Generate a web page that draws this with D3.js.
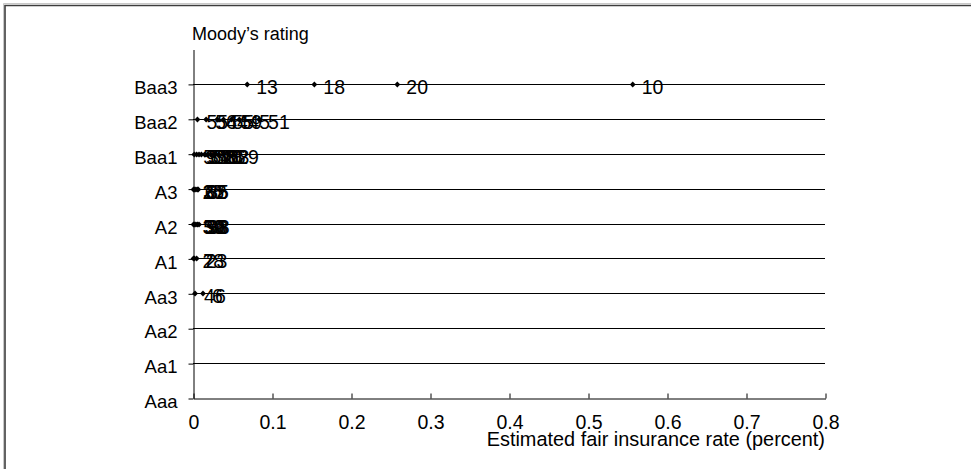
<!DOCTYPE html>
<html>
<head>
<meta charset="utf-8">
<script src="https://cdn.jsdelivr.net/npm/d3@7"></script>
<style>
  html, body { margin: 0; padding: 0; background: #fff; }
  svg { display: block; font-family: "Liberation Sans", Arial, sans-serif; }
</style>
</head>
<body>
<svg id="chart" width="971" height="469"></svg>
<script>
// Moody's rating categories (bottom to top)
const ratings = ["Aaa", "Aa1", "Aa2", "Aa3", "A1", "A2", "A3", "Baa1", "Baa2", "Baa3"];
// x-axis tick values
const xTicks = [0, 0.1, 0.2, 0.3, 0.4, 0.5, 0.6, 0.7, 0.8];

// Each point: rating, estimated rate (percent), bank label
const pointRating = [
  "Baa3", "Baa3", "Baa3", "Baa3",
  "Baa2", "Baa2", "Baa2", "Baa2", "Baa2", "Baa2", "Baa2",
  "Baa1", "Baa1", "Baa1", "Baa1", "Baa1", "Baa1", "Baa1", "Baa1", "Baa1", "Baa1", "Baa1",
  "A3", "A3", "A3", "A3", "A3",
  "A2", "A2", "A2", "A2", "A2",
  "A1", "A1", "A1",
  "Aa3", "Aa3"
];
const pointRate = [
  0.068, 0.153, 0.258, 0.556,
  0.005, 0.016, 0.030, 0.038, 0.048, 0.058, 0.083,
  0.001, 0.004, 0.007, 0.010, 0.014, 0.018, 0.022, 0.027, 0.032, 0.038, 0.044,
  0.000, 0.001, 0.003, 0.005, 0.006,
  0.000, 0.001, 0.003, 0.005, 0.007,
  0.000, 0.001, 0.004,
  0.002, 0.012
];
const pointLabel = [
  "13", "18", "20", "10",
  "55", "56", "44", "55", "59", "45", "51",
  "5", "9", "31", "57", "33", "58", "40", "26", "63", "8", "29",
  "25", "37", "62", "85", "35",
  "39", "50", "36", "98", "38",
  "28", "7", "23",
  "46", "6"
];

const axisTitleY = "Moody\u2019s rating";
const axisTitleX = "Estimated fair insurance rate (percent)";

const svg = d3.select("#chart");
const W = 971, H = 469;
const FS = 19.5;

// outer frame (left and top edges visible)
svg.append("path")
  .attr("d", `M3.5,${H} V3.5 H${W}`)
  .attr("fill", "none").attr("stroke", "#c8c8c8").attr("stroke-width", 1);
svg.append("path")
  .attr("d", `M5,${H} V5.5 H${W}`)
  .attr("fill", "none").attr("stroke", "#3c3c3c").attr("stroke-width", 1.6);

const padL = 193, padR = 825, padB = 398, padT = 49;

const x = d3.scaleLinear().domain([0, 0.8]).range([padL, padR]);
const y = d3.scaleLinear().domain([0, ratings.length]).range([padB, padT]);
const yIdx = r => Math.round(y(ratings.indexOf(r)));

const g = svg.append("g");

// horizontal gridlines at each category
g.append("g").selectAll("line")
  .data(ratings.slice(1))
  .join("line")
  .attr("x1", padL).attr("x2", padR)
  .attr("y1", d => yIdx(d) + 0.5)
  .attr("y2", d => yIdx(d) + 0.5)
  .attr("stroke", "#000").attr("stroke-width", 1);

// y axis
const yAxis = d3.axisLeft(y)
  .tickValues(d3.range(ratings.length))
  .tickFormat(i => ratings[i])
  .tickSizeInner(5).tickSizeOuter(0).tickPadding(11);
const ya = g.append("g").attr("transform", `translate(${padL + 0.5},0.5)`).call(yAxis);
ya.select(".domain").attr("stroke", "#000");
ya.selectAll(".tick line").attr("stroke", "#000");
ya.selectAll(".tick text").attr("font-size", 18.5).attr("fill", "#000")
  .attr("font-family", "'Liberation Sans', Arial, sans-serif").attr("dy", "0.5em");

// x axis (ticks pointing up into the plot)
const xAxis = d3.axisBottom(x)
  .tickValues(xTicks)
  .tickFormat(d => d3.format("")(d))
  .tickSizeInner(-5).tickSizeOuter(0).tickPadding(17);
const xa = g.append("g").attr("transform", `translate(0.5,${padB + 0.5})`).call(xAxis);
xa.select(".domain").attr("stroke", "#000");
xa.selectAll(".tick line").attr("stroke", "#000");
xa.selectAll(".tick text").attr("font-size", FS).attr("fill", "#000")
  .attr("font-family", "'Liberation Sans', Arial, sans-serif");

// axis titles
svg.append("text")
  .attr("x", padL - 1).attr("y", 40)
  .attr("font-size", 18).attr("fill", "#000")
  .text(axisTitleY);
svg.append("text")
  .attr("x", padR).attr("y", 446)
  .attr("text-anchor", "end")
  .attr("font-size", 19.9).attr("fill", "#000")
  .text(axisTitleX);

// points: small diamonds with labels
const pts = pointRate.map((v, i) => ({ r: pointRating[i], v: v, lab: pointLabel[i] }));
const diamond = d3.symbol().type(d3.symbolSquare).size(17);

g.append("g").selectAll("path")
  .data(pts)
  .join("path")
  .attr("d", diamond)
  .attr("transform", d => `translate(${x(d.v) + 0.5},${yIdx(d.r) + 0.5}) rotate(45)`)
  .attr("fill", "#000");

g.append("g").selectAll("text")
  .data(pts)
  .join("text")
  .attr("x", d => x(d.v) + 9.5)
  .attr("y", d => yIdx(d.r) + 9.5)
  .attr("font-size", FS).attr("fill", "#000")
  .text(d => d.lab);
</script>
</body>
</html>
